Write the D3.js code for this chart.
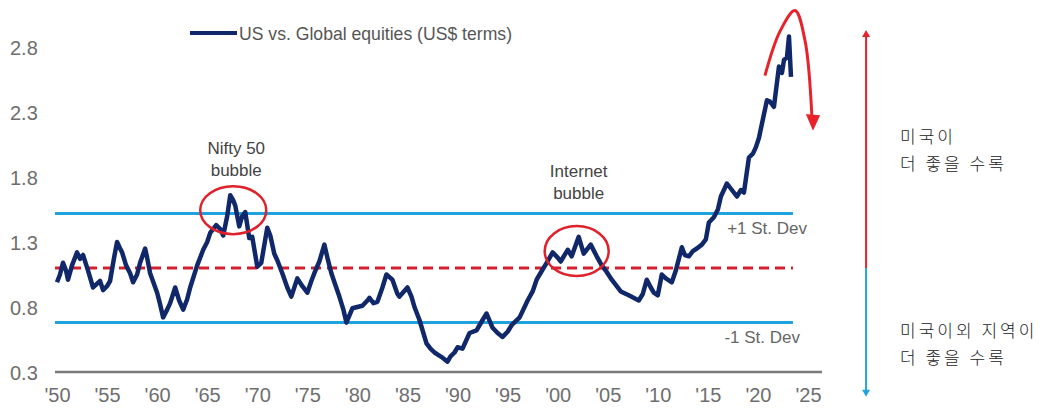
<!DOCTYPE html>
<html>
<head>
<meta charset="utf-8">
<script src="https://cdnjs.cloudflare.com/ajax/libs/d3/7.8.5/d3.min.js"></script>
<style>
  body { margin: 0; background: #fff; }
  svg text { font-family: "Liberation Sans Narrow", "Arial Narrow", "Liberation Sans", sans-serif; }
  .kr { font-family: "Noto Sans CJK KR", sans-serif; font-weight: 300; }
</style>
</head>
<body>
<div id="chart"></div>
<script>
// relative performance, US vs. global equities (US$ terms)
var years = [1950.0,1950.3,1950.6,1950.9,1951.1,1951.5,1952.0,1952.3,1952.6,1953.1,1953.6,1954.0,1954.3,1954.6,1955.0,1955.3,1955.7,1956.0,1956.3,1956.5,1956.9,1957.3,1957.6,1958.0,1958.3,1958.8,1959.0,1959.3,1960.0,1960.3,1960.6,1961.0,1961.3,1961.8,1962.2,1962.6,1963.0,1963.3,1964.0,1964.6,1965.0,1965.3,1965.9,1966.3,1966.6,1967.0,1967.3,1967.6,1967.8,1968.2,1968.5,1968.8,1969.2,1969.5,1970.0,1970.4,1971.0,1971.3,1971.7,1972.0,1972.5,1973.0,1973.4,1974.0,1974.5,1975.0,1975.4,1975.7,1976.2,1976.7,1977.0,1977.4,1977.8,1978.2,1978.6,1978.9,1979.5,1980.0,1980.5,1981.0,1981.2,1981.6,1982.0,1982.5,1982.9,1983.2,1983.5,1984.0,1984.2,1985.0,1985.4,1985.7,1986.2,1986.9,1987.3,1987.7,1988.1,1988.5,1989.0,1989.3,1989.7,1990.0,1990.5,1991.2,1991.9,1992.5,1992.9,1993.5,1994.0,1994.5,1995.0,1995.4,1996.2,1997.0,1997.5,1997.9,1998.2,1998.9,1999.5,2000.0,2000.3,2001.0,2001.4,2002.1,2002.6,2003.3,2003.9,2004.4,2004.8,2005.4,2006.3,2007.1,2008.1,2008.5,2008.9,2009.3,2009.6,2010.0,2010.4,2010.8,2011.4,2011.8,2012.4,2012.7,2013.1,2013.5,2013.9,2014.4,2014.8,2015.1,2015.6,2016.0,2016.3,2016.9,2017.4,2017.9,2018.3,2018.6,2019.1,2019.5,2019.8,2020.1,2020.4,2020.9,2021.2,2021.6,2022.1,2022.4,2022.6,2022.9,2023.1,2023.3];
var ratio = [0.99,1.05,1.14,1.08,1.01,1.12,1.22,1.17,1.20,1.08,0.95,0.98,1.00,0.93,0.96,1.00,1.18,1.30,1.25,1.22,1.12,1.06,0.99,1.05,1.14,1.25,1.18,1.06,0.91,0.82,0.72,0.78,0.83,0.95,0.85,0.78,0.86,0.95,1.12,1.24,1.30,1.37,1.43,1.40,1.35,1.50,1.66,1.62,1.58,1.42,1.50,1.53,1.33,1.34,1.11,1.14,1.41,1.35,1.21,1.16,1.06,0.95,0.88,1.02,0.96,0.91,1.00,1.06,1.15,1.28,1.18,1.06,0.97,0.88,0.78,0.68,0.79,0.80,0.81,0.85,0.87,0.83,0.84,0.95,1.05,1.03,1.01,0.90,0.88,0.95,0.88,0.80,0.70,0.52,0.48,0.45,0.43,0.41,0.38,0.42,0.45,0.49,0.48,0.60,0.62,0.70,0.75,0.64,0.60,0.57,0.61,0.66,0.72,0.85,0.92,1.01,1.05,1.14,1.22,1.18,1.15,1.24,1.19,1.34,1.21,1.28,1.19,1.12,1.08,1.01,0.92,0.89,0.85,0.90,1.01,0.95,0.91,0.89,1.05,1.02,0.99,1.08,1.26,1.20,1.19,1.23,1.25,1.28,1.32,1.45,1.49,1.55,1.65,1.75,1.70,1.65,1.70,1.68,1.95,1.98,2.03,2.10,2.21,2.39,2.38,2.34,2.65,2.60,2.70,2.72,2.88,2.57];

var mean = 1.10, plusSd = 1.52, minusSd = 0.68;
var yTicks = [0.3, 0.8, 1.3, 1.8, 2.3, 2.8];
var xTicks = [1950,1955,1960,1965,1970,1975,1980,1985,1990,1995,2000,2005,2010,2015,2020,2025];
var legendLabel = "US vs. Global equities (US$ terms)";

var W = 1044, H = 410;
var svg = d3.select("#chart").append("svg").attr("width", W).attr("height", H);

var x = d3.scaleLinear().domain([1950, 2025]).range([57, 808]);
var y = d3.scaleLinear().domain([0.3, 2.8]).range([372, 47]);

// y tick labels
var ya = svg.append("g").attr("transform", "translate(10,0)")
  .call(d3.axisLeft(y).tickValues(yTicks).tickSize(0).tickFormat(d3.format(".1f")));
ya.select(".domain").remove();
ya.selectAll("text").attr("x", 0).attr("dy", "0.35em").attr("text-anchor", "start")
  .style("font-size", "20px").style("fill", "#6e6e6e");

// x tick labels
var xa = svg.append("g").attr("transform", "translate(0,388)")
  .call(d3.axisBottom(x).tickValues(xTicks).tickSize(0)
    .tickFormat(function(d) { return "'" + String(d).slice(2); }));
xa.select(".domain").remove();
xa.selectAll("text").attr("y", 0).attr("dy", "0.71em")
  .style("font-size", "20px").style("fill", "#6e6e6e");

// base line
svg.append("line").attr("x1", 55).attr("x2", 822).attr("y1", y(0.3)).attr("y2", y(0.3))
  .style("stroke", "#7a7a7a").style("stroke-width", 2.5);

// std dev bands
[plusSd, minusSd].forEach(function(v) {
  svg.append("line").attr("x1", x(1949.8)).attr("x2", x(2023.5)).attr("y1", y(v)).attr("y2", y(v))
    .style("stroke", "#1fa3dd").style("stroke-width", 3);
});
svg.append("line").attr("x1", x(1949.8)).attr("x2", x(2023.5)).attr("y1", y(mean)).attr("y2", y(mean))
  .style("stroke", "#d6202f").style("stroke-width", 3).style("stroke-dasharray", "10,6");

svg.append("text").attr("x", 807).attr("y", y(plusSd) + 21).attr("text-anchor", "end")
  .style("font-size", "17px").style("fill", "#666").text("+1 St. Dev");
svg.append("text").attr("x", 800).attr("y", y(minusSd) + 20).attr("text-anchor", "end")
  .style("font-size", "17px").style("fill", "#666").text("-1 St. Dev");

// main series
var pts = years.map(function(d, i) { return [d, ratio[i]]; });
svg.append("path").datum(pts)
  .attr("d", d3.line().x(function(d) { return x(d[0]); }).y(function(d) { return y(d[1]); }))
  .style("fill", "none").style("stroke", "#10286a").style("stroke-width", 4.5)
  .style("stroke-linejoin", "round");

// legend
svg.append("line").attr("x1", 190).attr("x2", 237).attr("y1", 33).attr("y2", 33)
  .style("stroke", "#10286a").style("stroke-width", 4);
svg.append("text").attr("x", 239).attr("y", 40).style("font-size", "19px").style("fill", "#555")
  .attr("textLength", 273).attr("lengthAdjust", "spacingAndGlyphs")
  .text(legendLabel);

// bubble annotations
function ellipse(cx, cy, rx, ry) {
  svg.append("ellipse").attr("cx", x(cx)).attr("cy", y(cy)).attr("rx", rx).attr("ry", ry)
    .style("fill", "none").style("stroke", "#e0202a").style("stroke-width", 2.5);
}
ellipse(1967.6, 1.545, 33, 24);
ellipse(2001.9, 1.23, 32, 25);

function label(cx, lines, top) {
  lines.forEach(function(t, i) {
    svg.append("text").attr("x", x(cx)).attr("y", top + i * 22).attr("text-anchor", "middle")
      .style("font-size", "17px").style("fill", "#444").text(t);
  });
}
label(1967.9, ["Nifty 50", "bubble"], 154);
label(2002.1, ["Internet", "bubble"], 177);

// hand-drawn reversal arrow
var arc = [[2020.7, 2.58], [2022.2, 2.92], [2023.7, 3.08], [2024.7, 2.85], [2025.4, 2.25]];
svg.append("path").datum(arc)
  .attr("d", d3.line().x(function(d) { return x(d[0]); }).y(function(d) { return y(d[1]); }).curve(d3.curveCatmullRom))
  .style("fill", "none").style("stroke", "#e8222a").style("stroke-width", 3);
var tip = [x(2025.5), y(2.17)];
svg.append("path")
  .attr("d", "M" + (tip[0] - 6) + "," + (tip[1] - 14) + "L" + (tip[0] + 6) + "," + (tip[1] - 13) + "L" + tip[0] + "," + tip[1] + "Z")
  .style("fill", "#e8222a").style("stroke", "#e8222a").style("stroke-width", 1.5);

// vertical double arrow split at the mean
var ax = x(2030.8);
svg.append("line").attr("x1", ax).attr("x2", ax).attr("y1", y(2.93) + 4).attr("y2", y(mean))
  .style("stroke", "#e8222a").style("stroke-width", 2);
svg.append("line").attr("x1", ax).attr("x2", ax).attr("y1", y(mean)).attr("y2", y(0.11) - 4)
  .style("stroke", "#22a3df").style("stroke-width", 2);
svg.append("path").attr("d", "M" + (ax - 4) + "," + (y(2.93) + 7) + "L" + ax + "," + y(2.93) + "L" + (ax + 4) + "," + (y(2.93) + 7) + "Z")
  .style("fill", "#e8222a");
svg.append("path").attr("d", "M" + (ax - 4) + "," + (y(0.11) - 7) + "L" + ax + "," + y(0.11) + "L" + (ax + 4) + "," + (y(0.11) - 7) + "Z")
  .style("fill", "#22a3df");

// Korean notes
function note(lines, top) {
  lines.forEach(function(t, i) {
    svg.append("text").attr("class", "kr").attr("x", ax + 34).attr("y", top + i * 27)
      .style("font-size", "17px").style("letter-spacing", "3px").style("fill", "#222").text(t);
  });
}
note(["미국이", "더 좋을 수록"], 143);
note(["미국이외 지역이", "더 좋을 수록"], 337);
</script>
</body>
</html>
